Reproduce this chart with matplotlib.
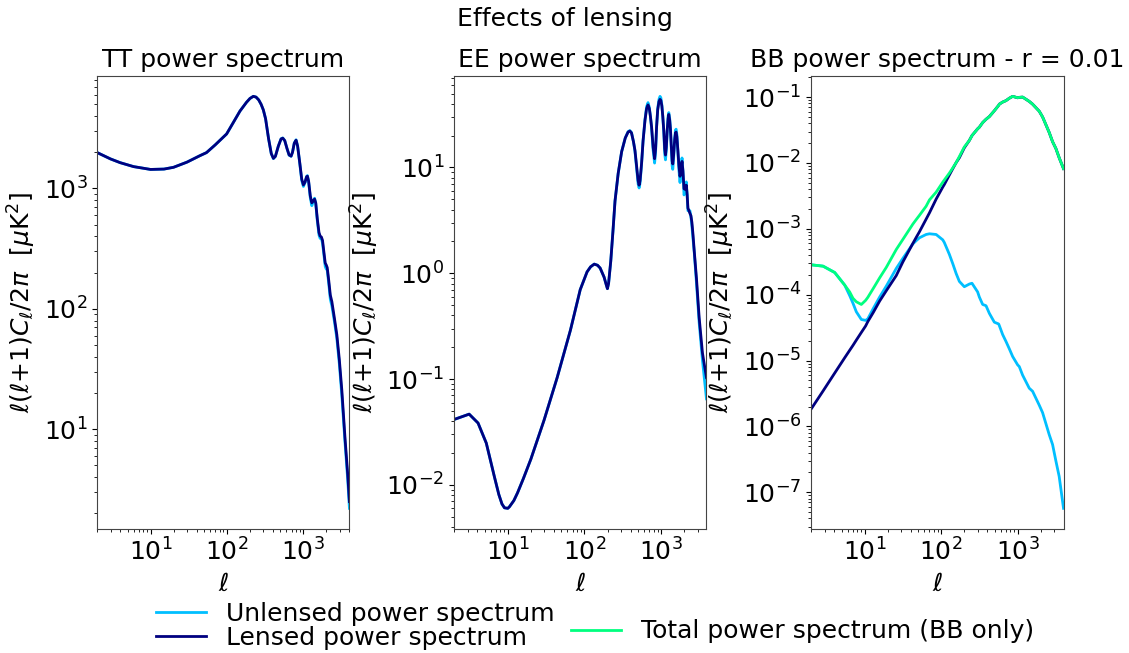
import matplotlib
matplotlib.use("Agg")
import matplotlib.pyplot as plt
import numpy as np

plt.rcParams['font.size'] = 18
plt.rcParams['axes.titlesize'] = 18
plt.rcParams['axes.edgecolor'] = '#444444'

# TT spectrum
ell_tt_low = [2, 3, 4, 6, 10, 15, 20, 30, 44, 54, 70, 99, 120, 148, 180, 200, 221, 240, 260,
              280, 299, 320]
tt_low = [1990, 1760, 1640, 1520, 1440, 1450, 1500, 1656, 1870, 1987, 2300, 2840, 3500, 4400,
          5200, 5600, 5830, 5750, 5450, 5000, 4500, 3800]
ell_tt_high = [350, 380, 405, 430, 470, 510, 537, 570, 610, 650, 690, 720, 760, 802, 840, 900,
               950, 1000, 1050, 1100, 1128, 1170, 1230, 1288, 1350, 1400, 1450, 1520, 1600, 1655,
               1720, 1780, 1850, 1930, 1986, 2050, 2150, 2250, 2356, 2550, 2737, 2950, 3184,
               3500, 3800, 4000]
tt_lensed_high = [2600, 1950, 1780, 1850, 2250, 2580, 2620, 2500, 2150, 1900, 1858, 2000, 2380,
                  2520, 2250, 1600, 1200, 1070, 1130, 1250, 1266, 1150, 870, 760, 790, 817, 760,
                  560, 430, 403, 395, 370, 300, 240, 232, 220, 170, 130, 115, 83, 61, 38, 21,
                  8.5, 4.2, 2.5]
tt_unlensed_high = [2600, 1950, 1770, 1850, 2250, 2590, 2630, 2500, 2150, 1890, 1850, 2000, 2390,
                    2540, 2250, 1580, 1170, 1040, 1120, 1260, 1280, 1140, 840, 720, 785, 830, 750,
                    540, 410, 385, 385, 350, 285, 225, 215, 210, 160, 120, 106, 78, 57, 35, 19,
                    7.8, 3.8, 2.2]

# EE spectrum
ell_ee_low = [2, 3.14, 4.1, 5.25, 6.7, 7.65, 8.4, 9.06, 10, 10.5, 12, 13.4, 16, 20, 29.7, 44,
              65.6, 88, 108, 120, 134, 148, 160, 180, 192, 199, 206, 220, 235, 250, 275, 305, 340]
ee_low = [0.0415, 0.0466, 0.0384, 0.0248, 0.0119, 0.0081, 0.0066, 0.00607, 0.0060, 0.0062,
          0.0071, 0.0084, 0.0115, 0.0175, 0.0408, 0.103, 0.29, 0.70, 1.03, 1.15, 1.22, 1.19, 1.12,
          0.92, 0.78, 0.715, 0.80, 1.30, 2.5, 4.82, 8.8, 14.1, 19.0]
ell_ee_high = [370, 390, 410, 435, 455, 480, 500, 515, 530, 555, 580, 615, 645, 673, 700, 725,
               750, 785, 820, 845, 870, 900, 935, 965, 990, 1020, 1050, 1082, 1110, 1137, 1165,
               1200, 1230, 1256, 1290, 1320, 1360, 1390, 1415, 1450, 1500, 1535, 1563, 1600, 1650,
               1700, 1759, 1810, 1867, 1920, 1982, 2050, 2124, 2180, 2230, 2300, 2368, 2440, 2512,
               2600, 2692, 2884, 3125, 3450, 3890]
ee_lensed_high = [21.6, 22.1, 21.2, 17.5, 14.5, 10.0, 7.5, 6.8, 7.5, 11, 17.8, 28, 36, 39, 36,
                  30, 24, 15.5, 12.1, 15, 24, 35, 42, 44, 43, 38, 30, 22, 15, 13.1, 15.5, 23, 29,
                  31.7, 28, 23, 15, 11.5, 10.8, 13, 18.5, 21.2, 21.6, 19.5, 14.5, 10.5, 8.25, 9.5,
                  11.4, 9.3, 6.3, 6.2, 6.8, 5.5, 4.13, 3.9, 3.68, 3.5, 3.03, 2.3, 1.64, 0.887, 0.38,
                  0.176, 0.103]
ee_unlensed_high = [21.8, 22.3, 21.4, 17.5, 14.2, 9.5, 7.0, 6.4, 7.1, 10.8, 17.8, 28.5, 37.5, 41,
                    37, 30, 23, 14.5, 11.0, 14.0, 24, 36, 44, 47, 45.5, 39, 30, 21, 13.5, 11.8,
                    14.5, 23, 30.5, 33, 29, 23, 14, 10.3, 9.6, 12, 19, 22.5, 23, 20.5, 14, 9.5, 7.2,
                    9, 12.3, 9.2, 5.5, 5.8, 7.3, 5.3, 3.9, 3.9, 3.9, 3.4, 2.8, 2.1, 1.6, 0.80, 0.34,
                    0.15, 0.065]

# BB spectrum, r = 0.01
ell_bb = [2, 2.86, 4.06, 5.48, 6.37, 7.04, 7.78, 9.05, 10.3, 11.0, 13.0, 15.7, 19.2, 25.9, 31.6,
          42.7, 47.2, 52, 63.6, 70.4, 86, 105, 110, 128, 142, 157, 173, 201, 234, 253, 300, 316,
          349, 386, 427, 496, 565, 576, 637, 704, 778, 861, 1000, 1051, 1162, 1419, 1570, 1917,
          2119, 2588, 2864, 3162, 3493, 3981]
bb_unlensed = [2.84e-4, 2.71e-4, 2.17e-4, 1.40e-4, 9.7e-5, 7.4e-5, 5.5e-5, 4.2e-5, 4.07e-5, 4.3e-5,
               6.2e-5, 9.2e-5, 1.35e-4, 2.5e-4, 3.56e-4, 5.9e-4, 6.6e-4, 7.3e-4, 8.2e-4, 8.4e-4,
               8.2e-4, 6.8e-4, 6.2e-4, 4.1e-4, 2.95e-4, 2.1e-4, 1.59e-4, 1.32e-4, 1.45e-4, 1.49e-4,
               1.1e-4, 9.2e-5, 7.1e-5, 6.8e-5, 5.2e-5, 3.82e-5, 3.59e-5, 3.4e-5, 2.48e-5, 1.95e-5,
               1.51e-5, 1.15e-5, 8.6e-6, 8.1e-6, 6.0e-6, 3.8e-6, 3.41e-6, 2.1e-6, 1.62e-6, 7.5e-7,
               5.3e-7, 3.0e-7, 1.74e-7, 5.7e-8]
bb_lensed = [1.84e-6, 3.45e-6, 6.45e-6, 1.1e-5, 1.43e-5, 1.7e-5, 2.04e-5, 2.67e-5, 3.35e-5, 3.9e-5,
             5.4e-5, 8.0e-5, 1.15e-4, 1.95e-4, 3.14e-4, 6.0e-4, 7.4e-4, 9.0e-4, 1.4e-3, 1.75e-3,
             2.82e-3, 4.3e-3, 4.7e-3, 6.55e-3, 8.2e-3, 1.01e-2, 1.2e-2, 1.7e-2, 2.2e-2, 2.6e-2,
             3.3e-2, 3.49e-2, 4.1e-2, 4.6e-2, 5.06e-2, 6.2e-2, 7.5e-2, 7.8e-2, 8.4e-2, 8.83e-2,
             9.6e-2, 1.026e-1, 9.76e-2, 9.9e-2, 1.0e-1, 8.6e-2, 7.8e-2, 6.1e-2, 5.0e-2, 2.9e-2,
             2.1e-2, 1.66e-2, 1.2e-2, 8.2e-3]
bb_total = [2.84e-4, 2.71e-4, 2.17e-4, 1.40e-4, 1.1e-4, 8.8e-5, 7.8e-5, 7.1e-5, 8.2e-5, 9.1e-5,
            1.25e-4, 1.8e-4, 2.6e-4, 4.85e-4, 6.9e-4, 1.18e-3, 1.38e-3, 1.6e-3, 2.2e-3, 2.75e-3,
            3.6e-3, 5.1e-3, 5.5e-3, 7.0e-3, 8.4e-3, 1.01e-2, 1.25e-2, 1.75e-2, 2.2e-2, 2.6e-2,
            3.3e-2, 3.49e-2, 4.1e-2, 4.6e-2, 5.06e-2, 6.2e-2, 7.5e-2, 7.8e-2, 8.4e-2, 8.83e-2,
            9.6e-2, 1.026e-1, 9.76e-2, 9.9e-2, 1.0e-1, 8.6e-2, 7.8e-2, 6.1e-2, 5.0e-2, 2.9e-2,
            2.1e-2, 1.66e-2, 1.2e-2, 8.2e-3]

ell_tt = ell_tt_low + ell_tt_high
tt_lensed = tt_low + tt_lensed_high
tt_unlensed = tt_low + tt_unlensed_high
ell_ee = ell_ee_low + ell_ee_high
ee_lensed = ee_low + ee_lensed_high
ee_unlensed = ee_low + ee_unlensed_high

c_unl = 'deepskyblue'
c_len = 'navy'
c_tot = 'springgreen'
ylab = r'$\ell(\ell{+}1)C_\ell/2\pi\ \ [\mu {\rm K}^2]$'

fig, axs = plt.subplots(1, 3, figsize=(11.29, 6.53), dpi=100)
fig.subplots_adjust(left=0.086, right=0.942, top=0.884, bottom=0.19, wspace=0.415)

ax = axs[0]
l1, = ax.loglog(ell_tt, tt_unlensed, color=c_unl, lw=2)
l2, = ax.loglog(ell_tt, tt_lensed, color=c_len, lw=2)
ax.set_title('TT power spectrum')

ax = axs[1]
ax.loglog(ell_ee, ee_unlensed, color=c_unl, lw=2)
ax.loglog(ell_ee, ee_lensed, color=c_len, lw=2)
ax.set_title('EE power spectrum')

ax = axs[2]
ax.loglog(ell_bb, bb_unlensed, color=c_unl, lw=2)
ax.loglog(ell_bb, bb_lensed, color=c_len, lw=2)
l3, = ax.loglog(ell_bb, bb_total, color=c_tot, lw=2)
ax.set_title('BB power spectrum - r = 0.01')

for ax, ell in zip(axs, [ell_tt, ell_ee, ell_bb]):
    ax.set_xlim(ell[0], ell[-1])
    ax.set_xlabel(r'$\ell$')
    ax.set_ylabel(ylab)

fig.suptitle('Effects of lensing', y=0.99, fontsize=18)
fig.legend([l1, l2], ['Unlensed power spectrum', 'Lensed power spectrum'],
           loc='center', bbox_to_anchor=(0.315, 0.042), frameon=False, labelspacing=0.0,
           borderpad=0.0)
fig.legend([l3], ['Total power spectrum (BB only)'],
           loc='center', bbox_to_anchor=(0.711, 0.033), frameon=False, borderpad=0.0)

plt.savefig('out.png', dpi=100)
